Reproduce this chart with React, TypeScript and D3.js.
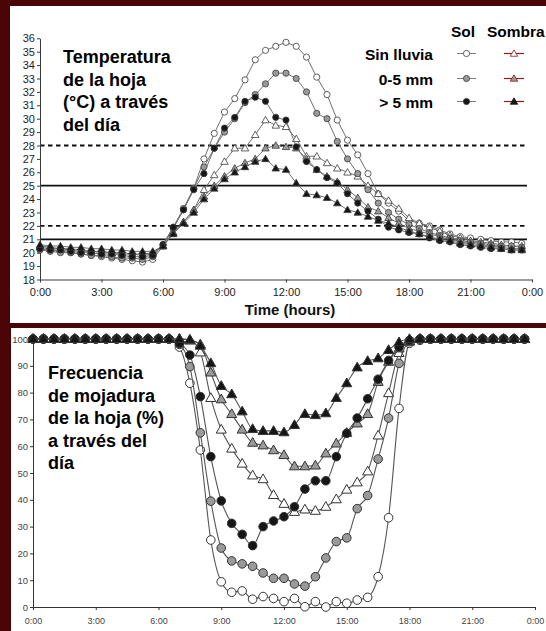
import * as d3 from 'd3';
import { useEffect, useRef } from 'react';

// half-hour sampling times (hours)
const halfHours = [
    0, 0.5, 1, 1.5, 2, 2.5, 3, 3.5, 4, 4.5, 5, 5.5,
    6, 6.5, 7, 7.5, 8, 8.5, 9, 9.5, 10, 10.5, 11, 11.5,
    12, 12.5, 13, 13.5, 14, 14.5, 15, 15.5, 16, 16.5, 17, 17.5,
    18, 18.5, 19, 19.5, 20, 20.5, 21, 21.5, 22, 22.5, 23, 23.5,
];
const timeTicks = [0, 3, 6, 9, 12, 15, 18, 21, 24];
const timeLabels = ['0:00', '3:00', '6:00', '9:00', '12:00', '15:00', '18:00', '21:00', '0:00'];
const tempTicks = [18, 19, 20, 21, 22, 23, 24, 25, 26, 27, 28, 29, 30, 31, 32, 33, 34, 35, 36];
const wetTicks = [0, 10, 20, 30, 40, 50, 60, 70, 80, 90, 100];
const limitsDashed = [28, 22];
const limitsSolid = [25, 21];

const legendCols = ['Sol', 'Sombra'];
const legendRows = ['Sin lluvia', '0-5 mm', '> 5 mm'];
const topTitle = ['Temperatura', 'de la hoja', '(°C) a través', 'del día'];
const bottomTitle = ['Frecuencia', 'de mojadura', 'de la hoja (%)', 'a través del', 'día'];

// leaf temperature (°C)
const tempSolSinLluvia = [
    20.3, 20.2, 20.1, 20.0, 19.9, 19.8, 19.7, 19.6, 19.5, 19.4, 19.3, 19.5,
    20.5, 21.8, 23.2, 24.8, 27.0, 28.9, 30.5, 31.5, 32.9, 34.4, 35.1, 35.4,
    35.7, 35.4, 34.6, 33.1, 31.8, 29.9, 28.4, 27.3, 25.9, 24.4, 23.7, 23.1,
    22.4, 22.2, 22.0, 21.7, 21.4, 21.2, 21.1, 21.0, 20.9, 20.8, 20.8, 20.7,
];
const tempSol05 = [
    20.2, 20.1, 20.0, 20.0, 19.9, 19.8, 19.8, 19.7, 19.6, 19.6, 19.5, 19.7,
    20.6, 21.9, 23.3, 24.8, 26.4, 27.8, 29.0, 30.0, 31.2, 31.8, 32.6, 33.4,
    33.4, 33.0, 32.0, 30.4, 30.0, 28.3, 27.0, 25.9, 24.7, 23.7, 23.0, 22.5,
    22.1, 21.8, 21.5, 21.3, 21.1, 20.9, 20.8, 20.7, 20.6, 20.5, 20.5, 20.4,
];
const tempSolMas5 = [
    20.3, 20.2, 20.2, 20.1, 20.0, 20.0, 19.9, 19.9, 19.8, 19.7, 19.7, 19.8,
    20.6, 21.9, 23.2, 24.7, 25.9, 27.8, 29.3, 30.1, 31.3, 31.6, 31.3, 30.1,
    29.9, 27.9, 26.8, 26.2, 25.6, 25.2, 24.4, 23.7, 23.1, 22.5, 21.9, 21.7,
    21.5, 21.4, 21.1, 20.9, 20.8, 20.6, 20.5, 20.4, 20.3, 20.3, 20.2, 20.2,
];
const tempSombraSinLluvia = [
    20.4, 20.3, 20.3, 20.2, 20.1, 20.1, 20.0, 20.0, 19.9, 19.9, 19.8, 19.9,
    20.5, 21.5, 22.3, 23.2, 24.7, 25.8, 26.8, 27.8, 27.8, 28.8, 29.9, 29.5,
    29.4, 28.5, 27.2, 27.2, 26.7, 26.3, 26.0, 25.7, 25.0, 24.4, 23.9, 23.3,
    22.6, 22.2, 21.9, 21.6, 21.3, 21.1, 20.9, 20.8, 20.7, 20.6, 20.5, 20.5,
];
const tempSombra05 = [
    20.5, 20.4, 20.3, 20.3, 20.2, 20.1, 20.1, 20.0, 20.0, 19.9, 19.9, 20.0,
    20.5, 21.5, 22.3, 23.2, 24.2, 25.0, 25.7, 26.3, 26.7, 27.0, 27.8, 28.0,
    27.9, 27.8, 27.0, 26.2, 25.7, 25.3, 24.7, 24.1, 23.4, 23.1, 22.6, 22.2,
    21.8, 21.6, 21.4, 21.2, 21.0, 20.8, 20.7, 20.6, 20.5, 20.4, 20.3, 20.3,
];
const tempSombraMas5 = [
    20.6, 20.5, 20.5, 20.4, 20.4, 20.3, 20.3, 20.2, 20.2, 20.1, 20.1, 20.1,
    20.5, 21.4, 22.2, 23.0, 24.0, 24.8, 25.5, 26.0, 26.4, 26.8, 27.0, 26.3,
    26.2, 25.2, 24.4, 24.3, 24.1, 23.7, 23.2, 23.0, 22.7, 22.4, 22.2, 21.9,
    21.6, 21.4, 21.2, 21.0, 20.9, 20.7, 20.6, 20.5, 20.4, 20.3, 20.2, 20.2,
];

// leaf wetness frequency (%)
const wetSolSinLluvia = [
    100, 100, 100, 100, 100, 100, 100, 100, 100, 100, 100, 100,
    100, 100, 97, 83.5, 58.6, 25, 9.4, 5.5, 6.0, 2.9, 3.9, 3.2,
    2.0, 3.2, 0.1, 2.0, 0, 2.0, 1.4, 2.6, 3.6, 11.3, 33.3, 74.1,
    98.4, 99.5, 100, 100, 100, 100, 100, 100, 100, 100, 100, 100,
];
const wetSol05 = [
    100, 100, 100, 100, 100, 100, 100, 100, 100, 100, 100, 100,
    100, 100, 98, 89.7, 65, 39.5, 22, 17.2, 16.1, 15.2, 12.7, 10.7,
    10.7, 8.6, 7.8, 11.3, 18.3, 24.4, 25.8, 36.7, 41.6, 55.2, 70.5, 90.9,
    99, 100, 100, 100, 100, 100, 100, 100, 100, 100, 100, 100,
];
const wetSolMas5 = [
    100, 100, 100, 100, 100, 100, 100, 100, 100, 100, 100, 100,
    100, 100, 98.4, 94, 78.5, 56.1, 39.6, 31.2, 27.1, 22.9, 30.0, 32.1,
    33.7, 37.4, 44.0, 47.1, 47.1, 56.1, 64.8, 70.5, 77.7, 85, 92, 97,
    99.5, 100, 100, 100, 100, 100, 100, 100, 100, 100, 100, 100,
];
const wetSombraSinLluvia = [
    100, 100, 100, 100, 100, 100, 100, 100, 100, 100, 100, 100,
    100, 100, 100, 99.5, 95, 78, 66.2, 59.1, 53.5, 49.1, 47.7, 41.8,
    38.5, 35.5, 36.4, 35.9, 37.4, 40.2, 43.8, 46.5, 50.6, 64, 79.8, 94.8,
    99, 100, 100, 100, 100, 100, 100, 100, 100, 100, 100, 100,
];
const wetSombra05 = [
    100, 100, 100, 100, 100, 100, 100, 100, 100, 100, 100, 100,
    100, 100, 100, 99.5, 98, 87.5, 77.5, 72, 66.2, 61.3, 60.3, 58.5,
    56.7, 52.5, 52.5, 52.8, 57.3, 61, 65, 68.5, 72, 84, 91.5, 96.5,
    99.3, 100, 100, 100, 100, 100, 100, 100, 100, 100, 100, 100,
];
const wetSombraMas5 = [
    100, 100, 100, 100, 100, 100, 100, 100, 100, 100, 100, 100,
    100, 100, 100, 99.8, 97.5, 91, 82.5, 79.4, 73, 66.4, 65.7, 65.7,
    65.2, 67.9, 72, 71.6, 72.3, 78, 83.5, 89.4, 91.8, 92.8, 95.9, 98.8,
    100, 100, 100, 100, 100, 100, 100, 100, 100, 100, 100, 100,
];

const FONT = 'Liberation Sans, Arial, Helvetica, sans-serif';
const FILLS = { open: '#ffffff', gray: '#9a9a9a', black: '#161616' };
const SOMBRA_RED = '#8e1b1b';

// drawn open -> gray -> black so the dark markers sit on top
const tempSeries = [
    { values: tempSolSinLluvia, shape: 'circle', fill: FILLS.open },
    { values: tempSombraSinLluvia, shape: 'triangle', fill: FILLS.open },
    { values: tempSol05, shape: 'circle', fill: FILLS.gray },
    { values: tempSombra05, shape: 'triangle', fill: FILLS.gray },
    { values: tempSolMas5, shape: 'circle', fill: FILLS.black },
    { values: tempSombraMas5, shape: 'triangle', fill: FILLS.black },
];
const wetSeries = [
    { values: wetSolSinLluvia, shape: 'circle', fill: FILLS.open },
    { values: wetSombraSinLluvia, shape: 'triangle', fill: FILLS.open },
    { values: wetSol05, shape: 'circle', fill: FILLS.gray },
    { values: wetSombra05, shape: 'triangle', fill: FILLS.gray },
    { values: wetSolMas5, shape: 'circle', fill: FILLS.black },
    { values: wetSombraMas5, shape: 'triangle', fill: FILLS.black },
];
const legendFills = [FILLS.open, FILLS.gray, FILLS.black];

const TOP = { left: 40, right: 532, bottom: 279.5, top: 38.3 };
const BOT = { left: 33, right: 535, bottom: 607, top: 339 };

const xTop = d3.scaleLinear().domain([0, 24]).range([TOP.left, TOP.right]);
const yTop = d3.scaleLinear().domain([18, 36]).range([TOP.bottom, TOP.top]);
const xBot = d3.scaleLinear().domain([0, 24]).range([BOT.left, BOT.right]);
const yBot = d3.scaleLinear().domain([0, 100]).range([BOT.bottom, BOT.top]);

const Marker = ({ x, y, shape, fill, r, tri, stroke, strokeWidth }) => {
    if (shape === 'circle') {
        return <circle cx={x} cy={y} r={r} fill={fill} stroke={stroke} strokeWidth={strokeWidth} />;
    }
    return (
        <path
            d={d3.symbol(d3.symbolTriangle, tri)()}
            transform={`translate(${x},${y + 0.6})`}
            fill={fill}
            stroke={stroke}
            strokeWidth={strokeWidth}
        />
    );
};

export default function App() {
    const topYAxis = useRef(null);
    const topXAxis = useRef(null);
    const botYAxis = useRef(null);
    const botXAxis = useRef(null);

    useEffect(() => {
        const styleAxis = (g, size, color, lineColor) => {
            g.attr('font-family', FONT).attr('font-size', size).attr('color', color);
            g.selectAll('path.domain').attr('stroke', lineColor);
            g.selectAll('.tick line').attr('stroke', lineColor);
        };

        const ty = d3.select(topYAxis.current);
        ty.call(d3.axisLeft(yTop).tickValues(tempTicks).tickSize(3).tickSizeOuter(0).tickPadding(2));
        styleAxis(ty, 11, '#1e1e1e', '#3a3a3a');

        const tx = d3.select(topXAxis.current);
        tx.call(
            d3.axisBottom(xTop).tickValues(timeTicks).tickSize(3).tickSizeOuter(0).tickPadding(6)
                .tickFormat((d, i) => timeLabels[i])
        );
        styleAxis(tx, 11, '#1e1e1e', '#3a3a3a');

        const by = d3.select(botYAxis.current);
        by.call(d3.axisLeft(yBot).tickValues(wetTicks).tickSize(3).tickSizeOuter(0).tickPadding(2));
        styleAxis(by, 9.5, '#444', '#333');

        const bx = d3.select(botXAxis.current);
        bx.call(
            d3.axisBottom(xBot).tickValues(timeTicks).tickSize(3).tickSizeOuter(0).tickPadding(8)
                .tickFormat((d, i) => timeLabels[i])
        );
        styleAxis(bx, 9, '#444', '#333');
    }, []);

    const topLine = d3.line().x((d, i) => xTop(halfHours[i])).y((d) => yTop(d));
    const botLine = d3.line().x((d, i) => xBot(halfHours[i])).y((d) => yBot(d)).curve(d3.curveMonotoneX);

    return (
        <svg width={546} height={631} style={{ position: 'absolute', left: 0, top: 0, display: 'block' }}>
            <rect width={546} height={631} fill="#4a0606" />
            <rect x={10} y={6} width={536} height={317} fill="#ffffff" />
            <rect x={11} y={328} width={535} height={303} fill="#ffffff" />

            {/* ---------- top panel: leaf temperature ---------- */}
            {limitsDashed.map((v) => (
                <line key={`d${v}`} x1={TOP.left} x2={527} y1={yTop(v)} y2={yTop(v)}
                    stroke="#111" strokeWidth={1.8} strokeDasharray="4.5,3.5" />
            ))}
            {limitsSolid.map((v) => (
                <line key={`s${v}`} x1={TOP.left} x2={527} y1={yTop(v)} y2={yTop(v)}
                    stroke="#111" strokeWidth={1.8} />
            ))}
            <g ref={topYAxis} transform={`translate(${TOP.left},0)`} />
            <g ref={topXAxis} transform={`translate(0,${TOP.bottom})`} />
            <text x={(TOP.left + TOP.right) / 2 + 4} y={315} textAnchor="middle" fontFamily={FONT}
                fontWeight="bold" fontSize={15} fill="#111">Time (hours)</text>

            {tempSeries.map((s, k) => (
                <g key={`t${k}`}>
                    <path d={topLine(s.values)} fill="none" stroke="#707070" strokeWidth={1} />
                    {s.values.map((v, i) => (
                        <Marker key={i} x={xTop(halfHours[i])} y={yTop(v)} shape={s.shape} fill={s.fill}
                            r={3.1} tri={24} stroke="#3a3a3a" strokeWidth={0.8} />
                    ))}
                </g>
            ))}

            {topTitle.map((t, i) => (
                <text key={t} x={63} y={63 + i * 22.7} fontFamily={FONT} fontWeight="bold" fontSize={18} fill="#000">{t}</text>
            ))}

            {/* legend */}
            <text x={463} y={37} textAnchor="middle" fontFamily={FONT} fontWeight="bold" fontSize={15.5} fill="#000">{legendCols[0]}</text>
            <text x={487} y={37} fontFamily={FONT} fontWeight="bold" fontSize={15.5} fill="#000">{legendCols[1]}</text>
            {legendRows.map((label, i) => {
                const y = [53.5, 78.5, 101.5][i];
                return (
                    <g key={label}>
                        <text x={433} y={y + 6} textAnchor="end" fontFamily={FONT} fontWeight="bold" fontSize={15.5} fill="#000">{label}</text>
                        <line x1={457} x2={476} y1={y} y2={y} stroke="#7a7a7a" strokeWidth={1} />
                        <Marker x={466.5} y={y} shape="circle" fill={legendFills[i]} r={3.1} tri={24} stroke="#3a3a3a" strokeWidth={0.8} />
                        <line x1={504} x2={524} y1={y} y2={y} stroke={SOMBRA_RED} strokeWidth={1.2} />
                        <Marker x={514} y={y} shape="triangle" fill={legendFills[i]} r={3.1} tri={24}
                            stroke={i === 2 ? '#111' : SOMBRA_RED} strokeWidth={0.8} />
                    </g>
                );
            })}

            {/* ---------- bottom panel: leaf wetness ---------- */}
            <g ref={botYAxis} transform={`translate(${BOT.left},0)`} />
            <g ref={botXAxis} transform={`translate(0,${BOT.bottom})`} />

            {wetSeries.map((s, k) => (
                <g key={`w${k}`}>
                    <path d={botLine(s.values)} fill="none" stroke="#555" strokeWidth={1.1} />
                    {s.values.map((v, i) => (
                        <Marker key={i} x={xBot(halfHours[i])} y={yBot(v)} shape={s.shape} fill={s.fill}
                            r={4.3} tri={44} stroke="#333" strokeWidth={1} />
                    ))}
                </g>
            ))}

            {bottomTitle.map((t, i) => (
                <text key={t} x={48} y={379 + i * 22.5} fontFamily={FONT} fontWeight="bold" fontSize={18} fill="#000">{t}</text>
            ))}
        </svg>
    );
}
